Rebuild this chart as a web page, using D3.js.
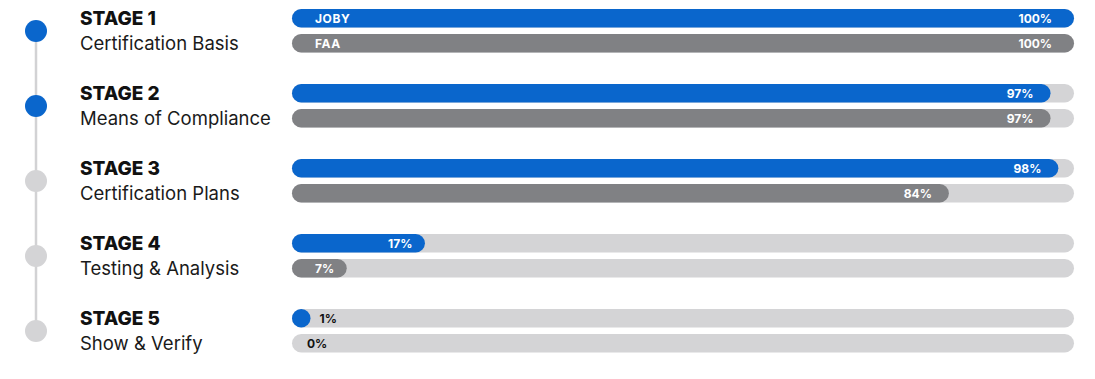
<!DOCTYPE html>
<html><head><meta charset="utf-8">
<script src="https://cdn.jsdelivr.net/npm/d3@7"></script>
<style>html,body{margin:0;padding:0;background:#fff;}svg{display:block;}</style>
</head><body><svg id="c" width="1095" height="379"></svg>
<script>
const stages = ["STAGE 1","STAGE 2","STAGE 3","STAGE 4","STAGE 5"];
const subtitles = ["Certification Basis","Means of Compliance","Certification Plans","Testing & Analysis","Show & Verify"];
const jobyValues = [100,97,98,17,1];
const faaValues = [100,97,84,7,0];
const completed = [true,true,false,false,false];
const seriesNames = ["JOBY","FAA"];

const svg = d3.select("#c");
const font = "Inter, 'Noto Sans', sans-serif";
const x = d3.scaleLinear().domain([0,100]).range([292,1074]);
const y = d3.scalePoint().domain(stages).range([31,331]);
const barH = 18.5;
const blue = "#0a66cc", gray = "#808184", track = "#d4d4d6";

// timeline
svg.append("line").attr("x1",36).attr("x2",36).attr("y1",y(stages[0])).attr("y2",y(stages[4]))
  .attr("stroke","#d2d2d4").attr("stroke-width",2.5);
svg.selectAll("circle.node").data(stages).join("circle")
  .attr("cx",36).attr("cy",d=>y(d)).attr("r",11)
  .attr("fill",(d,i)=>completed[i]?blue:"#d4d4d6");

// labels
svg.selectAll("text.stage").data(stages).join("text")
  .attr("x",80).attr("y",d=>y(d)-6).text(d=>d)
  .attr("font-family",font).attr("font-weight",800).attr("font-size",19).attr("fill","#111");
svg.selectAll("text.sub").data(subtitles).join("text")
  .attr("x",80).attr("y",(d,i)=>y(stages[i])+19).text(d=>d)
  .attr("font-family",font).attr("font-weight",400).attr("font-size",18.5).attr("fill","#1a1a1a");

const rows = [];
stages.forEach((s,i)=>{
  rows.push({stage:s, v:jobyValues[i], color:blue, top:y(s)-22, name:seriesNames[0], first:i===0});
  rows.push({stage:s, v:faaValues[i], color:gray, top:y(s)+3, name:seriesNames[1], first:i===0});
});

const g = svg.append("g");
g.selectAll("rect.track").data(rows).join("rect")
  .attr("x",x(0)).attr("y",d=>d.top).attr("width",x(100)-x(0)).attr("height",barH)
  .attr("rx",barH/2).attr("fill",track);
const bw = d=> d.v>0 ? Math.max(x(d.v)-x(0), barH) : 0;
g.selectAll("rect.bar").data(rows).join("rect")
  .attr("x",x(0)).attr("y",d=>d.top).attr("width",bw).attr("height",barH)
  .attr("rx",barH/2).attr("fill",d=>d.color);

g.selectAll("text.val").data(rows).join("text")
  .attr("x",d=> bw(d)>40 ? x(0)+bw(d)-(bw(d)>770?22:(bw(d)>400?17:12.5)) : x(0)+bw(d)+ (d.v>0?9:15))
  .attr("text-anchor",d=> bw(d)>40 ? "end":"start")
  .attr("y",d=>d.top+barH/2).attr("dy","0.36em")
  .attr("font-family",font).attr("font-weight",700).attr("font-size",12)
  .attr("fill",d=> bw(d)>40 ? "#fff":"#111")
  .text(d=>d.v+"%");

g.selectAll("text.name").data(rows.filter(d=>d.first)).join("text")
  .attr("x",x(0)+23).attr("y",d=>d.top+barH/2).attr("dy","0.36em")
  .attr("font-family",font).attr("font-weight",700).attr("font-size",12).attr("letter-spacing",0.6)
  .attr("fill","#fff").text(d=>d.name);
</script></body></html>
